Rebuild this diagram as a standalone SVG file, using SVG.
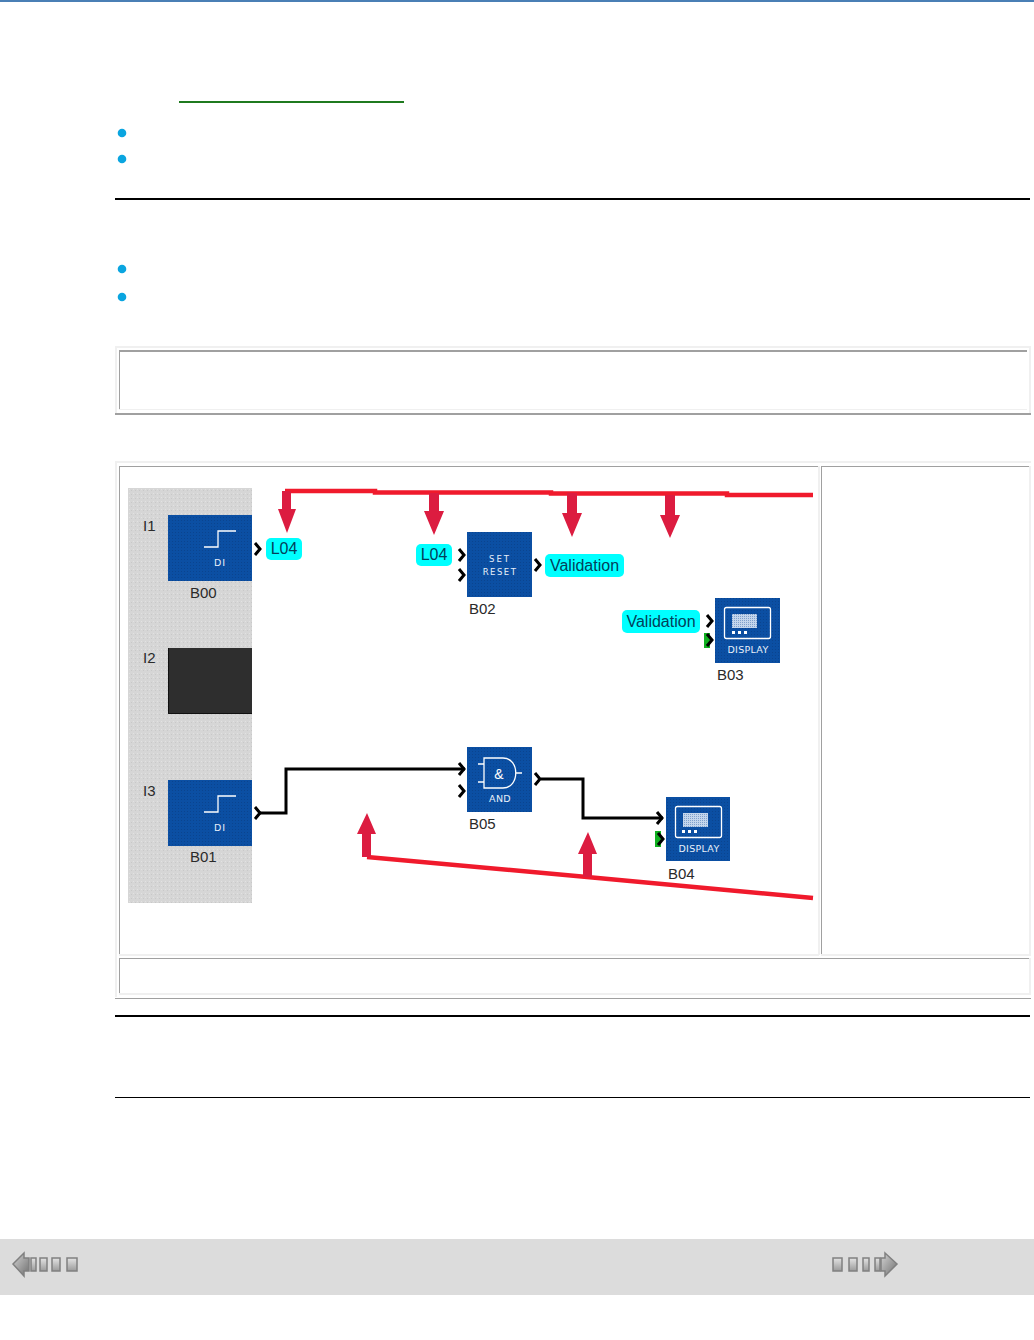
<svg xmlns="http://www.w3.org/2000/svg" width="1034" height="1340" viewBox="0 0 1034 1340">
<defs>
<linearGradient id="nav" x1="0" y1="0" x2="1" y2="1"><stop offset="0" stop-color="#d4d4d4"/><stop offset="1" stop-color="#6f6f6f"/></linearGradient>
<linearGradient id="navb" x1="0" y1="0" x2="0" y2="1"><stop offset="0" stop-color="#e4e4e4"/><stop offset="1" stop-color="#9a9a9a"/></linearGradient>
<pattern id="speck" width="4" height="4" patternUnits="userSpaceOnUse"><rect width="4" height="4" fill="#d6d6d6"/><rect x="1" y="1" width="1" height="1" fill="#e2e2e2"/><rect x="3" y="2" width="1" height="1" fill="#c8c8c8"/></pattern>
<pattern id="bluedot" width="3" height="3" patternUnits="userSpaceOnUse"><rect width="3" height="3" fill="#0b4fa3"/><rect x="1" y="1" width="1" height="1" fill="#0a448f"/></pattern>
<pattern id="screen" width="2" height="2" patternUnits="userSpaceOnUse"><rect width="2" height="2" fill="#c4d6ec"/><rect width="1" height="1" fill="#7fa0cc"/></pattern>
</defs>
<style>
text{font-family:"Liberation Sans",Arial,sans-serif}
.lbl{font-size:15px;fill:#2a2a2a}
.blk{fill:url(#bluedot)}
.ico{fill:none;stroke:#fff;stroke-width:1.3}
.cap{font-family:"DejaVu Sans",sans-serif;font-size:9.500px;fill:#e8f0fa;letter-spacing:1px;text-anchor:middle}
.tag{fill:#00ffff}
.tagt{font-size:16px;fill:#03405a;text-anchor:middle}
.pin{fill:none;stroke:#000;stroke-width:3}
.wire{fill:none;stroke:#000;stroke-width:3}
.red{fill:none;stroke:#f01a2c;stroke-width:4.500}
.arr{fill:#dc1c40}
.bul{fill:#0aa5e0}
.hi{fill:#f0f0f0}
.lo{fill:#a0a0a0}
</style>
<rect width="1034" height="1340" fill="#fff"/>
<rect x="0" y="0" width="1034" height="2" fill="#4a7fb5"/>

<g id="page-text-decor">
<rect x="179" y="101" width="225" height="2" fill="#1f7a1f"/>
<circle class="bul" cx="122" cy="133" r="4.300"/>
<circle class="bul" cx="122" cy="159" r="4.300"/>
<circle class="bul" cx="122" cy="269" r="4.300"/>
<circle class="bul" cx="122" cy="297" r="4.300"/>
<rect x="115" y="198" width="915" height="2" fill="#000"/>
<rect x="115" y="1015" width="915" height="2" fill="#000"/>
<rect x="115" y="1097" width="915" height="1" fill="#000"/>
</g>

<g id="note-box">
<rect class="hi" x="115" y="346" width="916" height="2"/>
<rect class="hi" x="115" y="346" width="2" height="68"/>
<rect class="hi" x="1029" y="346" width="2" height="68"/>
<rect class="lo" x="119" y="350" width="908" height="2"/>
<rect class="lo" x="119" y="350" width="1" height="59"/>
<rect class="hi" x="119" y="409" width="908" height="1"/>
<rect class="lo" x="115" y="413" width="916" height="2"/>
</g>

<g id="table">
<rect class="hi" x="115" y="461" width="916" height="2"/>
<rect class="hi" x="115" y="461" width="2" height="536"/>
<rect class="lo" x="119" y="466" width="700" height="1"/>
<rect class="lo" x="119" y="466" width="1" height="488"/>
<rect class="hi" x="818" y="466" width="2" height="489"/>
<rect class="hi" x="119" y="954" width="700" height="2"/>
<rect class="lo" x="821" y="466" width="209" height="1"/>
<rect class="lo" x="821" y="466" width="1" height="488"/>
<rect class="hi" x="1029" y="466" width="2" height="489"/>
<rect class="hi" x="821" y="954" width="210" height="2"/>
<rect class="lo" x="119" y="958" width="911" height="1"/>
<rect class="lo" x="119" y="958" width="1" height="35"/>
<rect class="hi" x="1029" y="958" width="2" height="36"/>
<rect class="hi" x="119" y="993" width="912" height="2"/>
<rect class="lo" x="115" y="998" width="916" height="1"/>
</g>

<rect id="input-panel" x="128" y="488" width="124" height="415" fill="url(#speck)"/>

<g id="connectors">
<path class="wire" d="M260 813H286V769H465"/>
<path class="wire" d="M541 779H583V818H663"/>
<path class="red" d="M285 491H375V492.500H551V493.500H727V495H813"/>
<path class="red" d="M367 857L587 877L813 898"/>
<path class="arr" d="M282 491h9v18h5l-9 24-9-24h4z"/>
<path class="arr" d="M429 493h10v18h5l-10 24-10-24h5z"/>
<path class="arr" d="M567 493h10v20h5l-10 24-10-24h5z"/>
<path class="arr" d="M665 495h10v20h5l-10 23-10-23h5z"/>
<path class="arr" d="M362 857v-23h-5l10-21 9 21h-5v23z"/>
<path class="arr" d="M583 877v-23h-5l10-22 9 22h-5v23z"/>
</g>

<g id="I1"><text class="lbl" x="143" y="531">I1</text></g>
<g id="B00">
<rect class="blk" x="168" y="515" width="84" height="66"/>
<path class="ico" d="M204 547H218V531H236"/>
<text class="cap" x="220" y="566">DI</text>
<text class="lbl" x="190" y="598">B00</text>
<path class="pin" d="M255 543l5 6-5 6"/>
</g>
<g id="tag-L04-a">
<rect class="tag" x="266" y="538" width="36" height="22" rx="5"/>
<text class="tagt" x="284" y="554">L04</text>
</g>

<g id="I2"><text class="lbl" x="143" y="663">I2</text></g>
<g id="I2-block"><rect x="168" y="648" width="84" height="66" fill="#2e2e2e"/><path d="M168.500 648V713.500H252" fill="none" stroke="#111"/></g>

<g id="I3"><text class="lbl" x="143" y="796">I3</text></g>
<g id="B01">
<rect class="blk" x="168" y="780" width="84" height="66"/>
<path class="ico" d="M204 812H218V796H236"/>
<text class="cap" x="220" y="831">DI</text>
<text class="lbl" x="190" y="862">B01</text>
<path class="pin" d="M255 807l5 6-5 6"/>
</g>

<g id="tag-L04-b">
<rect class="tag" x="416" y="544" width="36" height="22" rx="5"/>
<text class="tagt" x="434" y="560">L04</text>
</g>
<g id="B02">
<rect class="blk" x="467" y="532" width="65" height="65"/>
<text class="cap" x="500" y="562" style="font-size:8.500px;letter-spacing:2px">SET</text>
<text class="cap" x="500" y="575" style="font-size:8.500px;letter-spacing:1.500px">RESET</text>
<text class="lbl" x="469" y="614">B02</text>
<path class="pin" d="M459 549l5 6-5 6M459 569l5 6-5 6M535 559l5 6-5 6"/>
</g>
<g id="tag-Validation-a">
<rect class="tag" x="545" y="554" width="79" height="23" rx="5"/>
<text class="tagt" x="584.500" y="571">Validation</text>
</g>
<g id="tag-Validation-b">
<rect class="tag" x="622" y="610" width="78" height="23" rx="5"/>
<text class="tagt" x="661" y="627">Validation</text>
</g>

<g id="B03">
<rect class="blk" x="715" y="598" width="65" height="65"/>
<rect class="ico" x="724.500" y="607.500" width="46" height="31" rx="2"/>
<rect x="732" y="614" width="25" height="14" fill="url(#screen)"/>
<path d="M732 631h3v3h-3zM738 631h3v3h-3zM744 631h3v3h-3z" fill="#fff"/>
<text class="cap" x="748" y="653" style="letter-spacing:.3px;font-size:9.500px">DISPLAY</text>
<text class="lbl" x="717" y="680">B03</text>
<path class="pin" d="M707 615l5 6-5 6"/>
<rect x="704" y="633" width="6" height="15" fill="#10b020"/>
<path class="pin" d="M707 634l5 6-5 6"/>
</g>

<g id="B05">
<rect class="blk" x="467" y="747" width="65" height="65"/>
<path class="ico" d="M484 758H503C520 758 520 788 503 788H484ZM478 764H484M478 782H484M516 773H522"/>
<text x="499" y="779" text-anchor="middle" style="font-size:14px;fill:#fff">&amp;</text>
<text class="cap" x="500" y="802" style="letter-spacing:.3px">AND</text>
<text class="lbl" x="469" y="829">B05</text>
<path class="pin" d="M459 763l5 6-5 6M459 785l5 6-5 6M535 773l5 6-5 6"/>
</g>

<g id="B04">
<rect class="blk" x="666" y="797" width="64" height="64"/>
<rect class="ico" x="675.500" y="806.500" width="46" height="31" rx="2"/>
<rect x="683" y="813" width="25" height="14" fill="url(#screen)"/>
<path d="M682 830h3v3h-3zM688 830h3v3h-3zM694 830h3v3h-3z" fill="#fff"/>
<text class="cap" x="699" y="852" style="letter-spacing:.3px;font-size:9.500px">DISPLAY</text>
<text class="lbl" x="668" y="879">B04</text>
<path class="pin" d="M657 812l5 6-5 6"/>
<rect x="655" y="831" width="6" height="16" fill="#10b020"/>
<path class="pin" d="M658 833l5 6-5 6"/>
</g>

<g id="nav-bar">
<rect x="0" y="1239" width="1034" height="56" fill="#dcdcdc"/>
<g stroke="#808080" stroke-width="1.500">
<path fill="url(#nav)" d="M24 1253L13 1264L24 1276V1271H29V1258H24Z"/>
<rect x="31" y="1258" width="5" height="13" fill="url(#navb)"/>
<rect x="40" y="1258" width="7" height="13" fill="url(#navb)"/>
<rect x="52" y="1258" width="8" height="13" fill="url(#navb)"/>
<rect x="67" y="1258" width="10" height="13" fill="url(#navb)"/>
<rect x="833" y="1258" width="9" height="13" fill="url(#navb)"/>
<rect x="849" y="1258" width="8" height="13" fill="url(#navb)"/>
<rect x="863" y="1258" width="6" height="13" fill="url(#navb)"/>
<rect x="875" y="1258" width="5" height="13" fill="url(#navb)"/>
<path fill="url(#nav)" d="M885 1253L897 1264L885 1276V1271H881V1258H885Z"/>
</g>
</g>
</svg>
